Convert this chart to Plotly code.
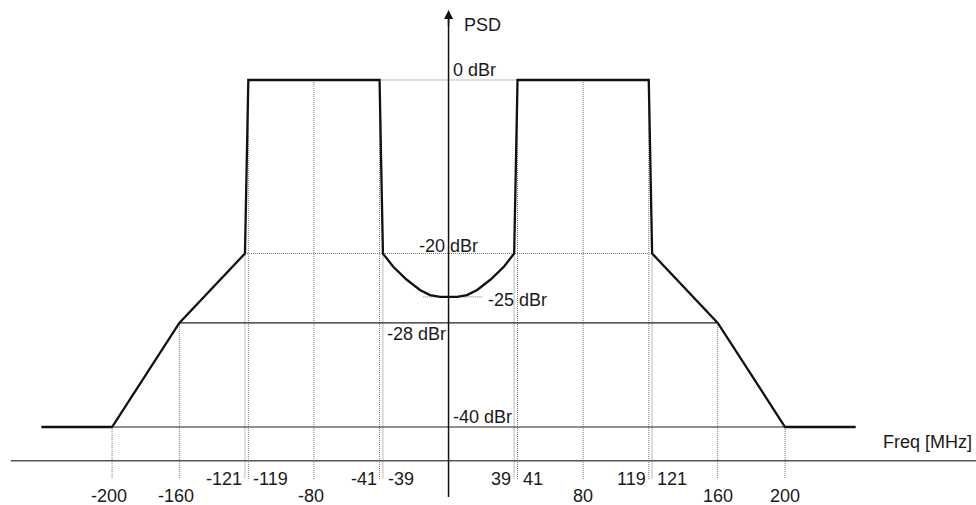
import numpy as np
import plotly.graph_objects as go

# ---- data ----
mask_freq = [-242, -200, -160, -121, -119, -41, -39, -33, -25, -17, -11, -5, 0,
             5, 11, 17, 25, 33, 39, 41, 119, 121, 160, 200, 242]
mask_level = [-40, -40, -28, -20, 0, 0, -20, -21.5, -23, -24.2, -24.8, -25, -25,
              -25, -24.8, -24.2, -23, -21.5, -20, 0, 0, -20, -28, -40, -40]

guide_freq = [-200, -160, -121, -119, -80, -41, -39, 39, 41, 80, 119, 121, 160, 200]

row1_ticks = [-121, -119, -41, -39, 39, 41, 119, 121]
row1_side = ["right", "left", "right", "left", "right", "left", "right", "left"]
row2_ticks = [-200, -160, -80, 80, 160, 200]

# reference levels: (level, from freq, to freq, style)
ref_levels = [0, -20, -25, -28, -40]
ref_from = [-41, -121, -15, -160, -200]
ref_to = [41, 121, 20, 160, 200]
ref_style = ["dot", "dot", "dot", "solid", "solid"]

level_labels = ["0 dBr", "-20 dBr", "-25 dBr", "-28 dBr", "-40 dBr"]

AXIS_BASE = -43.9
GUIDE_BOTTOM = -46.0
Y_AXIS_BOTTOM = -48.07
Y_AXIS_TOP = 8.07

FONT = dict(family="Arial, Liberation Sans, sans-serif", size=18, color="#1a1a1a")
DOT = dict(color="#7a7a7a", width=1, dash="1px,1px")

fig = go.Figure()

shapes = []
# vertical guides
for f in guide_freq:
    top = float(np.interp(f, mask_freq, mask_level))
    shapes.append(dict(type="line", x0=f, x1=f, y0=top, y1=GUIDE_BOTTOM,
                       line=DOT, layer="below"))
# horizontal reference lines
for lv, a, b, st in zip(ref_levels, ref_from, ref_to, ref_style):
    ln = DOT if st == "dot" else dict(color="#222222", width=1.2)
    shapes.append(dict(type="line", x0=a, x1=b, y0=lv, y1=lv, line=ln, layer="below"))
# x axis line
shapes.append(dict(type="line", xref="paper", x0=0.011, x1=1, y0=AXIS_BASE, y1=AXIS_BASE,
                   line=dict(color="#555555", width=1.5)))
# y axis line
shapes.append(dict(type="line", x0=0, x1=0, y0=Y_AXIS_BOTTOM, y1=Y_AXIS_TOP - 1,
                   line=dict(color="#111111", width=1.5)))

fig.add_trace(go.Scatter(x=mask_freq, y=mask_level, mode="lines",
                         line=dict(color="#111111", width=2.3), hoverinfo="skip",
                         showlegend=False))

ann = []
# arrow at top of y axis
ann.append(dict(x=0, y=Y_AXIS_TOP, ax=0, ay=Y_AXIS_TOP - 2, axref="x", ayref="y",
                xref="x", yref="y", showarrow=True, arrowhead=2, arrowsize=1.2,
                arrowwidth=1.5, arrowcolor="#111111", text=""))
ann.append(dict(x=0, y=Y_AXIS_TOP, text="PSD", showarrow=False, xanchor="left",
                yanchor="middle", xshift=13, yshift=-15, font=FONT))
ann.append(dict(xref="paper", x=1, y=AXIS_BASE, text="Freq [MHz]", showarrow=False,
                xanchor="right", yanchor="middle", xshift=-2, yshift=19, font=FONT))

# level labels
lab_x = [0, 0, 20, 0, 0]
lab_anchor = ["left", "center", "left", "right", "left"]
lab_xshift = [2, 0, 4, -1, 2]
lab_yshift = [10, 8, -3, -11, 10]
for t, lv, x, xa, xs, ys in zip(level_labels, ref_levels, lab_x, lab_anchor, lab_xshift, lab_yshift):
    ann.append(dict(x=x, y=lv, text=t, showarrow=False, xanchor=xa, yanchor="middle",
                    xshift=xs, yshift=ys, font=FONT))

# tick labels
for f, side in zip(row1_ticks, row1_side):
    ann.append(dict(x=f, y=AXIS_BASE, text=str(f), showarrow=False, xanchor=side,
                    yanchor="middle", xshift=(-1 if side == "right" else 3), yshift=-18.5,
                    font=FONT))
for f in row2_ticks:
    ann.append(dict(x=f, y=AXIS_BASE, text=str(f), showarrow=False, xanchor="center",
                    yanchor="middle", xshift=(-3 if f < 0 else 0), yshift=-35.5, font=FONT))

fig.update_layout(
    width=976, height=505,
    margin=dict(l=0, r=0, t=0, b=0),
    paper_bgcolor="white", plot_bgcolor="white",
    xaxis=dict(range=[-266.6, 313.5], visible=False, fixedrange=True),
    yaxis=dict(range=[-48.99, 9.22], visible=False, fixedrange=True),
    shapes=shapes, annotations=ann, showlegend=False,
)

fig.write_html(
    "out.html",
    config=dict(displayModeBar=False),
    post_script="document.body.style.margin='0';document.body.style.overflow='hidden';",
)
